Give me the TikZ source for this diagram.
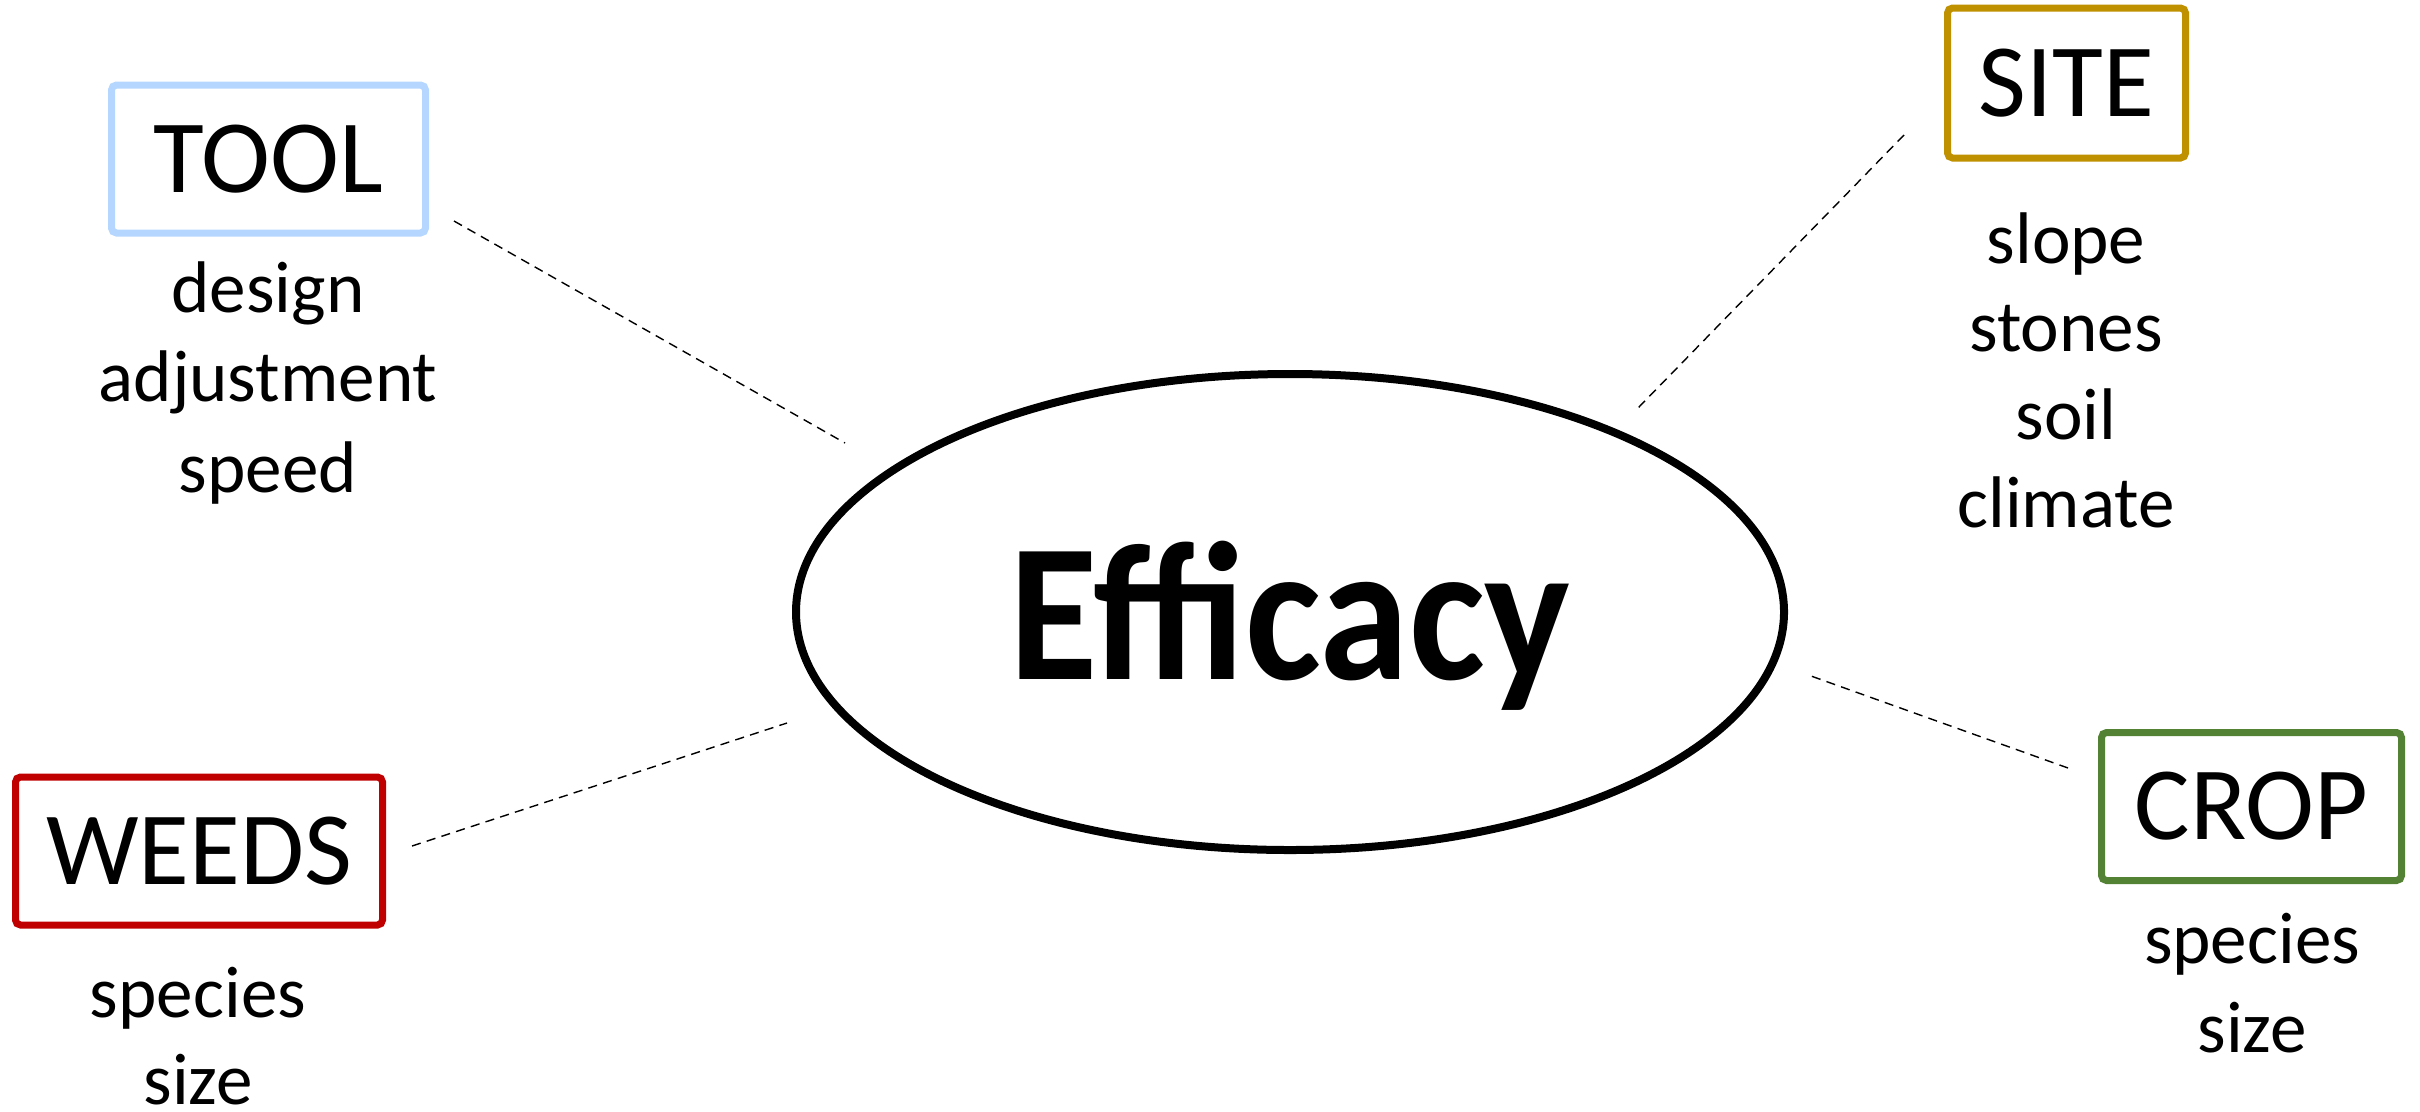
\documentclass[tikz,border=0pt]{standalone}
\usepackage{fontspec}
\usepackage{graphicx}
\setmainfont{Carlito}
\usetikzlibrary{shapes.geometric}
\definecolor{toolblue}{RGB}{180,214,255}
\definecolor{sitegold}{RGB}{191,144,0}
\definecolor{weedred}{RGB}{192,0,0}
\definecolor{cropgreen}{RGB}{84,130,53}
\begin{document}
\begin{tikzpicture}[
cat/.style={%
draw,
line width=0.07cm,
rounded corners=0.05cm,
minimum height=1.48cm,
inner sep=0pt,
font=\fontsize{29.6}{30}\selectfont
},
item/.style={anchor=base, inner sep=0pt, font=\fontsize{20.8}{25}\selectfont},
link/.style={draw, line width=0.4pt, dash pattern=on 2.6pt off 1.8pt}
]
\useasboundingbox (0,0) rectangle (24.2,-11.11);
%% Centre
\node[draw, ellipse, line width=0.08cm, minimum width=9.88cm, minimum height=4.76cm,
  inner sep=0pt, text height=1.55cm, text depth=0.21cm,
  font=\fontsize{56}{60}\bfseries]at(12.90,-6.12)(eff){\scalebox{0.92}[1]{Efficacy}};
%% Tool
\node[cat, draw=toolblue, minimum width=3.14cm]at(2.685,-1.59)(tool){TOOL};
\node[item]at(2.68,-3.12)(tool1){design};
\node[item]at(2.68,-4.01)(tool2){adjustment};
\node[item]at(2.68,-4.92)(tool3){speed};
%% Site
\node[cat, draw=sitegold, minimum width=2.38cm, minimum height=1.50cm]at(20.665,-0.83)(site){SITE};
\node[item]at(20.66,-2.63)(site1){slope};
\node[item]at(20.66,-3.51)(site2){stones};
\node[item]at(20.66,-4.39)(site3){soil};
\node[item]at(20.66,-5.27)(site4){climate};
%% Weeds
\node[cat, draw=weedred, minimum width=3.67cm]at(1.99,-8.51)(weeds){WEEDS};
\node[item]at(1.98,-10.17)(weeds1){species};
\node[item]at(1.98,-11.04)(weeds2){size};
%% Crop
\node[cat, draw=cropgreen, minimum width=3.00cm]at(22.515,-8.065)(crop){CROP};
\node[item]at(22.52,-9.63)(crop1){species};
\node[item]at(22.52,-10.52)(crop2){size};
%% Links
\coordinate (toolA) at (4.54,-2.21);
\coordinate (toolB) at (8.45,-4.43);
\coordinate (siteA) at (19.04,-1.35);
\coordinate (siteB) at (16.38,-4.08);
\coordinate (weedsA) at (4.12,-8.46);
\coordinate (weedsB) at (7.87,-7.23);
\coordinate (cropA) at (20.68,-7.68);
\coordinate (cropB) at (18.11,-6.76);
\draw[link](toolA)--(toolB);
\draw[link](siteA)--(siteB);
\draw[link](weedsA)--(weedsB);
\draw[link](cropA)--(cropB);
\end{tikzpicture}
\end{document}
